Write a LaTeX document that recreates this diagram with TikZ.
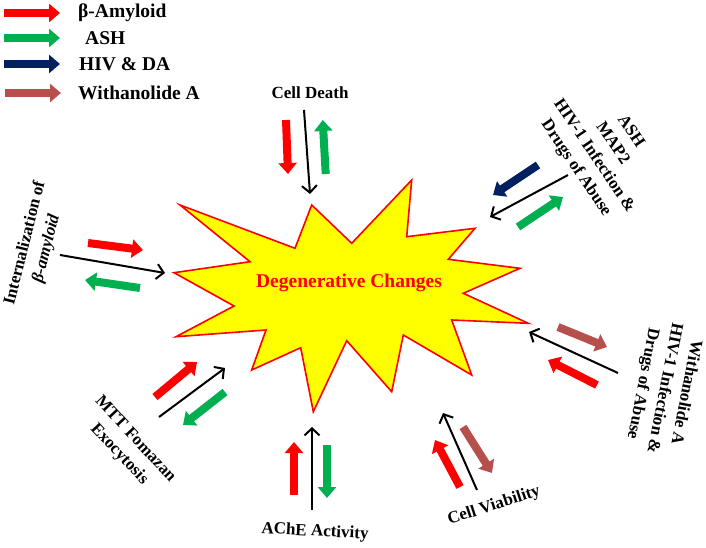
\documentclass[tikz,border=0pt]{standalone}
\usepackage{fontspec}
\setmainfont{Liberation Serif}
\usetikzlibrary{arrows.meta}
\definecolor{cred}{HTML}{FF0000}
\definecolor{cgreen}{HTML}{00B050}
\definecolor{cnavy}{HTML}{002060}
\definecolor{cbrown}{HTML}{B5504D}
\definecolor{cyellow}{HTML}{FFFF00}
\begin{document}
\begin{tikzpicture}[x=1pt,y=-1pt,
 blk/.style={line width=8pt,-{Triangle[length=11pt,width=18pt]}},
 blackarr/.style={line width=2pt,-{Straight Barb[length=7pt,width=15pt]}},
 lbl/.style={font=\fontsize{17}{20}\selectfont\bfseries,align=center,inner sep=0pt},
 leg/.style={font=\fontsize{19.5}{23}\selectfont\bfseries,anchor=west,inner sep=0pt}]
\useasboundingbox (0,0) rectangle (706,548);
% legend
\draw[blk,cred] (4,13) -- (60,13);
\node[leg] (l1) at (78,13) {β-Amyloid};
\draw[blk,cgreen] (4,38) -- (60,38);
\node[leg] (l2) at (85,38) {ASH};
\draw[blk,cnavy] (4,64) -- (60,64);
\node[leg] (l3) at (79,64) {HIV \& DA};
\draw[blk,cbrown] (5,93) -- (61,93);
\node[leg] (l4) at (78,93) {Withanolide A};
% star
\draw[cred,line width=1.6pt,fill=cyellow,line join=miter]
 (311.7,205) -- (351.7,243.3) -- (411.7,180) -- (406.7,236.7) -- (475,228.3)
 -- (448.3,259.3) -- (520,268.3) -- (463.3,293.3) -- (528.3,323.3) -- (451.7,320)
 -- (471.7,375) -- (403.3,335) -- (391.7,391.7) -- (346.7,340.7) -- (313.3,411.7)
 -- (300.7,347.7) -- (251.7,370) -- (266,330) -- (176,336.7) -- (234,306)
 -- (174,272.7) -- (250,261.7) -- (180,205) -- (295,248.3) -- cycle;
\node[font=\fontsize{19.5}{23}\selectfont\bfseries,text=cred,inner sep=0pt] (center) at (349,283) {Degenerative Changes};
% labels
\node[lbl] (cd) at (310,93) {Cell Death};
\node[lbl,rotate=-56] (tr) at (603,150) {ASH\\[2pt]MAP2\\[2pt]HIV-1 Infection \&\\[2pt]Drugs of Abuse};
\node[lbl,rotate=-101] (rt) at (664,388) {Withanolide A\\[2pt]HIV-1 Infection \&\\[2pt]Drugs of Abuse};
\node[lbl,rotate=18] (cv) at (494,506) {Cell Viability};
\node[lbl,rotate=-3] (ache) at (315,532) {AChE Activity};
\node[lbl,rotate=-47] (mtt) at (127,447) {MTT Fomazan\\[2pt]Exocytosis};
\node[lbl,rotate=76] (int) at (36,246) {Internalization of\\[2pt]\textit{β-amyloid}};
% Cell Death
\draw[blackarr] (304,110) -- (310,194);
\draw[blk,cred] (286,120) -- (288,174);
\draw[blk,cgreen] (325.7,174) -- (322.7,120);
% top right
\draw[blackarr] (568,175) -- (490,217);
\draw[blk,cnavy] (538,165) -- (493,195);
\draw[blk,cgreen] (518,227) -- (563,197);
% right
\draw[blackarr] (618,373) -- (529,332);
\draw[blk,cbrown] (558,327) -- (607,347);
\draw[blk,cred] (597,385) -- (548,360);
% cell viability
\draw[blackarr] (477,490) -- (443,413);
\draw[blk,cred] (460,487) -- (435,440);
\draw[blk,cbrown] (463,427) -- (492,473);
% AChE
\draw[blackarr] (312,510) -- (312,427);
\draw[blk,cred] (294,495) -- (294,442);
\draw[blk,cgreen] (327,445) -- (327,498);
% MTT
\draw[blackarr] (159,417) -- (225,368);
\draw[blk,cred] (155,397) -- (197,362);
\draw[blk,cgreen] (225,392) -- (183,425);
% Internalization
\draw[blackarr] (60,255) -- (165,273);
\draw[blk,cred] (88,243) -- (143,250);
\draw[blk,cgreen] (140,288) -- (85,280);
\end{tikzpicture}
\end{document}
